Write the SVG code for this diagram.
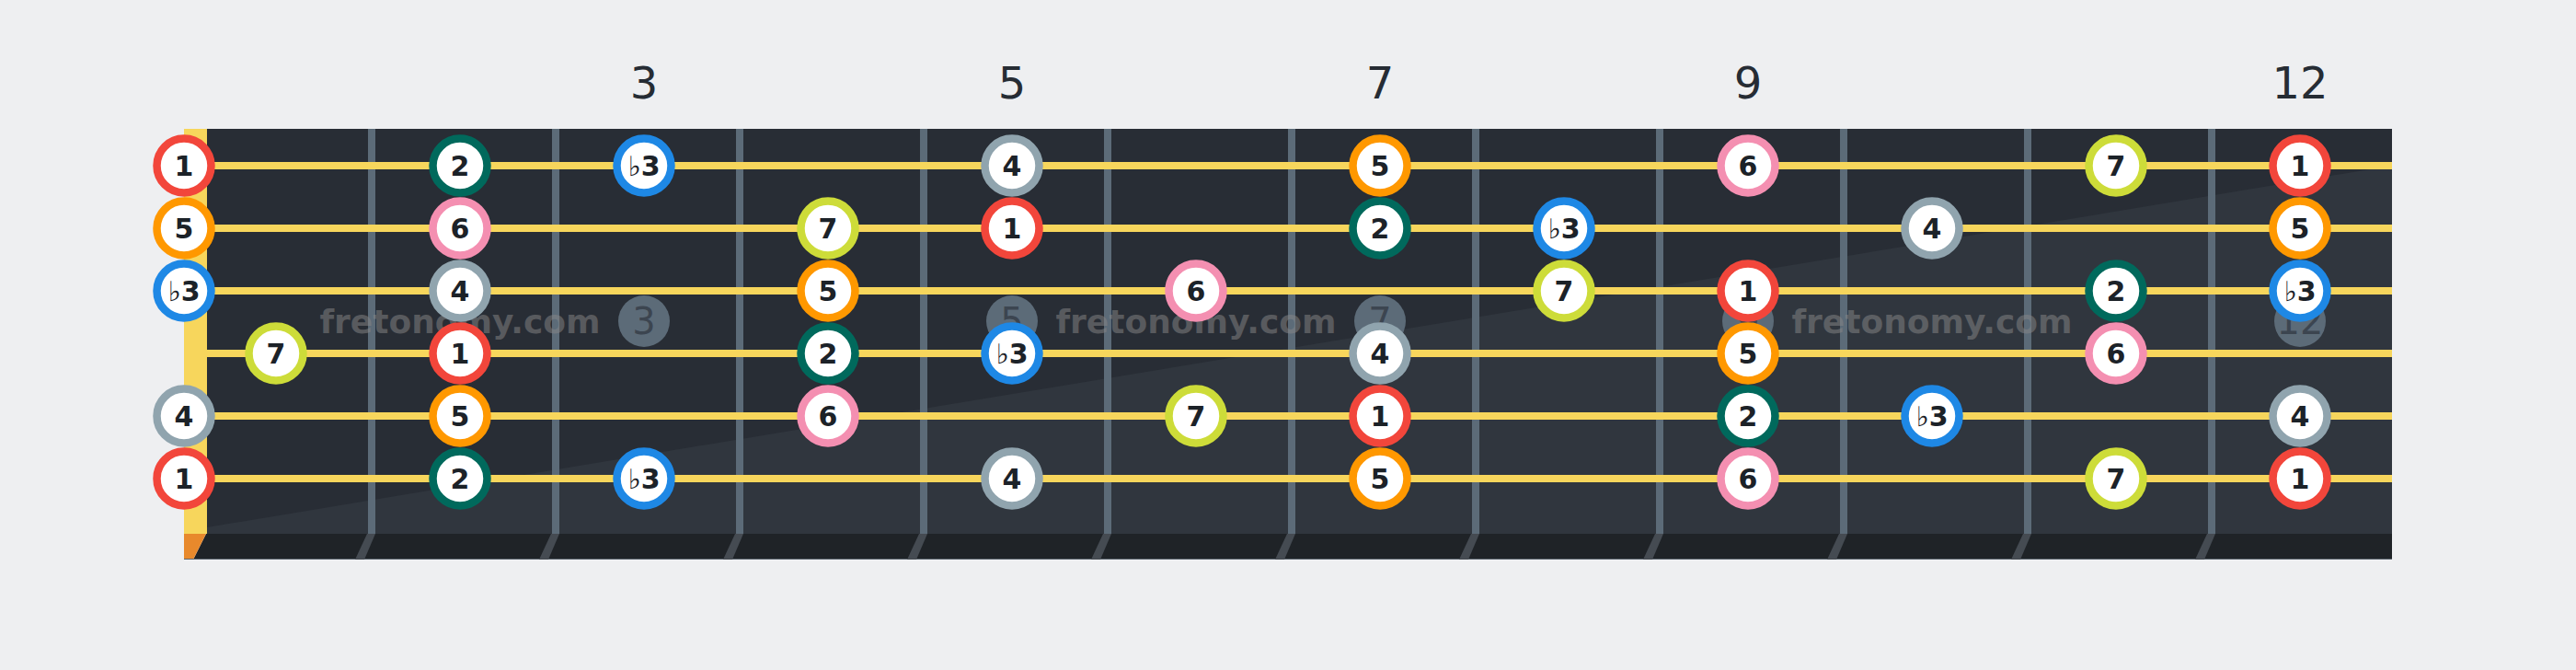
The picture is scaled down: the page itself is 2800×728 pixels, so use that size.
<svg xmlns="http://www.w3.org/2000/svg" width="2800" height="728" viewBox="0 0 2800 728">
<style>
.bg{fill:#eeeff1}
.fretnum{font-family:"DejaVu Sans",sans-serif;font-size:48px;fill:#262c34;text-anchor:middle}
.wire{fill:#5c6b78}
.wext{fill:#454b52}
.str{stroke:#f7d65c;stroke-width:8}
.mk{fill:#5c6b78}
.mkt{font-family:"DejaVu Sans",sans-serif;font-size:40px;fill:#3c4550;text-anchor:middle}
.wm{font-family:"DejaVu Sans",sans-serif;font-weight:bold;font-size:36px;fill:#888888;fill-opacity:0.5;text-anchor:middle}
.n circle{fill:#ffffff;stroke-width:8.5}
.n text{font-family:"DejaVu Sans",sans-serif;font-weight:bold;font-size:30px;fill:#1c2228;text-anchor:middle}
.fl{font-weight:normal}
.d1 circle{stroke:#f2463b}
.d2 circle{stroke:#00695c}
.d3 circle{stroke:#1e88e5}
.d4 circle{stroke:#90a4ae}
.d5 circle{stroke:#ff9800}
.d6 circle{stroke:#f48fb1}
.d7 circle{stroke:#cddc39}
</style>
<rect class="bg" x="0" y="0" width="2800" height="728"/>
<g id="fret-numbers">
<text class="fretnum" x="700" y="107">3</text>
<text class="fretnum" x="1100" y="107">5</text>
<text class="fretnum" x="1500" y="107">7</text>
<text class="fretnum" x="1900" y="107">9</text>
<text class="fretnum" x="2500" y="107">12</text>
</g>
<g id="board">
<rect x="225" y="140" width="2375" height="440" fill="#282d35"/>
<polygon points="225,573 2600,180 2600,580 225,580" fill="#30363e"/>
<rect x="200" y="140" width="25" height="440" fill="#f7d65c"/>
<polygon points="224,580 2600,580 2600,608 210,608" fill="#1f2327"/>
<polygon points="200,580 224,580 210,608 200,608" fill="#e8892c"/>
<line x1="200" y1="607.5" x2="2600" y2="607.5" stroke="#5c6670" stroke-width="1"/>
<g id="fret-wires">
<rect class="wire" x="400" y="140" width="8" height="440"/>
<rect class="wire" x="600" y="140" width="8" height="440"/>
<rect class="wire" x="800" y="140" width="8" height="440"/>
<rect class="wire" x="1000" y="140" width="8" height="440"/>
<rect class="wire" x="1200" y="140" width="8" height="440"/>
<rect class="wire" x="1400" y="140" width="8" height="440"/>
<rect class="wire" x="1600" y="140" width="8" height="440"/>
<rect class="wire" x="1800" y="140" width="8" height="440"/>
<rect class="wire" x="2000" y="140" width="8" height="440"/>
<rect class="wire" x="2200" y="140" width="8" height="440"/>
<rect class="wire" x="2400" y="140" width="8" height="440"/>
<polygon class="wext" points="399,580 408,580 396,608 386,608"/>
<polygon class="wext" points="599,580 608,580 596,608 586,608"/>
<polygon class="wext" points="799,580 808,580 796,608 786,608"/>
<polygon class="wext" points="999,580 1008,580 996,608 986,608"/>
<polygon class="wext" points="1199,580 1208,580 1196,608 1186,608"/>
<polygon class="wext" points="1399,580 1408,580 1396,608 1386,608"/>
<polygon class="wext" points="1599,580 1608,580 1596,608 1586,608"/>
<polygon class="wext" points="1799,580 1808,580 1796,608 1786,608"/>
<polygon class="wext" points="1999,580 2008,580 1996,608 1986,608"/>
<polygon class="wext" points="2199,580 2208,580 2196,608 2186,608"/>
<polygon class="wext" points="2399,580 2408,580 2396,608 2386,608"/>
</g>
<g id="markers">
<circle class="mk" cx="700" cy="349" r="28"/><text class="mkt" x="700" y="363">3</text>
<circle class="mk" cx="1100" cy="349" r="28"/><text class="mkt" x="1100" y="363">5</text>
<circle class="mk" cx="1500" cy="349" r="28"/><text class="mkt" x="1500" y="363">7</text>
<circle class="mk" cx="1900" cy="349" r="28"/><text class="mkt" x="1900" y="363">9</text>
<circle class="mk" cx="2500" cy="349" r="28"/><text class="mkt" x="2500" y="363">12</text>
</g>
<g id="watermarks">
<text class="wm" x="500" y="362">fretonomy.com</text>
<text class="wm" x="1300" y="362">fretonomy.com</text>
<text class="wm" x="2100" y="362">fretonomy.com</text>
</g>
</g>
<g id="strings">
<line class="str" x1="225" y1="180" x2="2600" y2="180"/>
<line class="str" x1="225" y1="248" x2="2600" y2="248"/>
<line class="str" x1="225" y1="316" x2="2600" y2="316"/>
<line class="str" x1="225" y1="384" x2="2600" y2="384"/>
<line class="str" x1="225" y1="452" x2="2600" y2="452"/>
<line class="str" x1="225" y1="520" x2="2600" y2="520"/>
</g>
<g id="notes">
<g id="s1-f0" class="n d1"><circle cx="200" cy="180" r="29.5"/><text x="200" y="191">1</text></g>
<g id="s1-f2" class="n d2"><circle cx="500" cy="180" r="29.5"/><text x="500" y="191">2</text></g>
<g id="s1-f3" class="n d3"><circle cx="700" cy="180" r="29.5"/><text x="700" y="191"><tspan class="fl">♭</tspan>3</text></g>
<g id="s1-f5" class="n d4"><circle cx="1100" cy="180" r="29.5"/><text x="1100" y="191">4</text></g>
<g id="s1-f7" class="n d5"><circle cx="1500" cy="180" r="29.5"/><text x="1500" y="191">5</text></g>
<g id="s1-f9" class="n d6"><circle cx="1900" cy="180" r="29.5"/><text x="1900" y="191">6</text></g>
<g id="s1-f11" class="n d7"><circle cx="2300" cy="180" r="29.5"/><text x="2300" y="191">7</text></g>
<g id="s1-f12" class="n d1"><circle cx="2500" cy="180" r="29.5"/><text x="2500" y="191">1</text></g>

<g id="s2-f0" class="n d5"><circle cx="200" cy="248" r="29.5"/><text x="200" y="259">5</text></g>
<g id="s2-f2" class="n d6"><circle cx="500" cy="248" r="29.5"/><text x="500" y="259">6</text></g>
<g id="s2-f4" class="n d7"><circle cx="900" cy="248" r="29.5"/><text x="900" y="259">7</text></g>
<g id="s2-f5" class="n d1"><circle cx="1100" cy="248" r="29.5"/><text x="1100" y="259">1</text></g>
<g id="s2-f7" class="n d2"><circle cx="1500" cy="248" r="29.5"/><text x="1500" y="259">2</text></g>
<g id="s2-f8" class="n d3"><circle cx="1700" cy="248" r="29.5"/><text x="1700" y="259"><tspan class="fl">♭</tspan>3</text></g>
<g id="s2-f10" class="n d4"><circle cx="2100" cy="248" r="29.5"/><text x="2100" y="259">4</text></g>
<g id="s2-f12" class="n d5"><circle cx="2500" cy="248" r="29.5"/><text x="2500" y="259">5</text></g>

<g id="s3-f0" class="n d3"><circle cx="200" cy="316" r="29.5"/><text x="200" y="327"><tspan class="fl">♭</tspan>3</text></g>
<g id="s3-f2" class="n d4"><circle cx="500" cy="316" r="29.5"/><text x="500" y="327">4</text></g>
<g id="s3-f4" class="n d5"><circle cx="900" cy="316" r="29.5"/><text x="900" y="327">5</text></g>
<g id="s3-f6" class="n d6"><circle cx="1300" cy="316" r="29.5"/><text x="1300" y="327">6</text></g>
<g id="s3-f8" class="n d7"><circle cx="1700" cy="316" r="29.5"/><text x="1700" y="327">7</text></g>
<g id="s3-f9" class="n d1"><circle cx="1900" cy="316" r="29.5"/><text x="1900" y="327">1</text></g>
<g id="s3-f11" class="n d2"><circle cx="2300" cy="316" r="29.5"/><text x="2300" y="327">2</text></g>
<g id="s3-f12" class="n d3"><circle cx="2500" cy="316" r="29.5"/><text x="2500" y="327"><tspan class="fl">♭</tspan>3</text></g>

<g id="s4-f1" class="n d7"><circle cx="300" cy="384" r="29.5"/><text x="300" y="395">7</text></g>
<g id="s4-f2" class="n d1"><circle cx="500" cy="384" r="29.5"/><text x="500" y="395">1</text></g>
<g id="s4-f4" class="n d2"><circle cx="900" cy="384" r="29.5"/><text x="900" y="395">2</text></g>
<g id="s4-f5" class="n d3"><circle cx="1100" cy="384" r="29.5"/><text x="1100" y="395"><tspan class="fl">♭</tspan>3</text></g>
<g id="s4-f7" class="n d4"><circle cx="1500" cy="384" r="29.5"/><text x="1500" y="395">4</text></g>
<g id="s4-f9" class="n d5"><circle cx="1900" cy="384" r="29.5"/><text x="1900" y="395">5</text></g>
<g id="s4-f11" class="n d6"><circle cx="2300" cy="384" r="29.5"/><text x="2300" y="395">6</text></g>

<g id="s5-f0" class="n d4"><circle cx="200" cy="452" r="29.5"/><text x="200" y="463">4</text></g>
<g id="s5-f2" class="n d5"><circle cx="500" cy="452" r="29.5"/><text x="500" y="463">5</text></g>
<g id="s5-f4" class="n d6"><circle cx="900" cy="452" r="29.5"/><text x="900" y="463">6</text></g>
<g id="s5-f6" class="n d7"><circle cx="1300" cy="452" r="29.5"/><text x="1300" y="463">7</text></g>
<g id="s5-f7" class="n d1"><circle cx="1500" cy="452" r="29.5"/><text x="1500" y="463">1</text></g>
<g id="s5-f9" class="n d2"><circle cx="1900" cy="452" r="29.5"/><text x="1900" y="463">2</text></g>
<g id="s5-f10" class="n d3"><circle cx="2100" cy="452" r="29.5"/><text x="2100" y="463"><tspan class="fl">♭</tspan>3</text></g>
<g id="s5-f12" class="n d4"><circle cx="2500" cy="452" r="29.5"/><text x="2500" y="463">4</text></g>

<g id="s6-f0" class="n d1"><circle cx="200" cy="520" r="29.5"/><text x="200" y="531">1</text></g>
<g id="s6-f2" class="n d2"><circle cx="500" cy="520" r="29.5"/><text x="500" y="531">2</text></g>
<g id="s6-f3" class="n d3"><circle cx="700" cy="520" r="29.5"/><text x="700" y="531"><tspan class="fl">♭</tspan>3</text></g>
<g id="s6-f5" class="n d4"><circle cx="1100" cy="520" r="29.5"/><text x="1100" y="531">4</text></g>
<g id="s6-f7" class="n d5"><circle cx="1500" cy="520" r="29.5"/><text x="1500" y="531">5</text></g>
<g id="s6-f9" class="n d6"><circle cx="1900" cy="520" r="29.5"/><text x="1900" y="531">6</text></g>
<g id="s6-f11" class="n d7"><circle cx="2300" cy="520" r="29.5"/><text x="2300" y="531">7</text></g>
<g id="s6-f12" class="n d1"><circle cx="2500" cy="520" r="29.5"/><text x="2500" y="531">1</text></g>
</g>
</svg>
